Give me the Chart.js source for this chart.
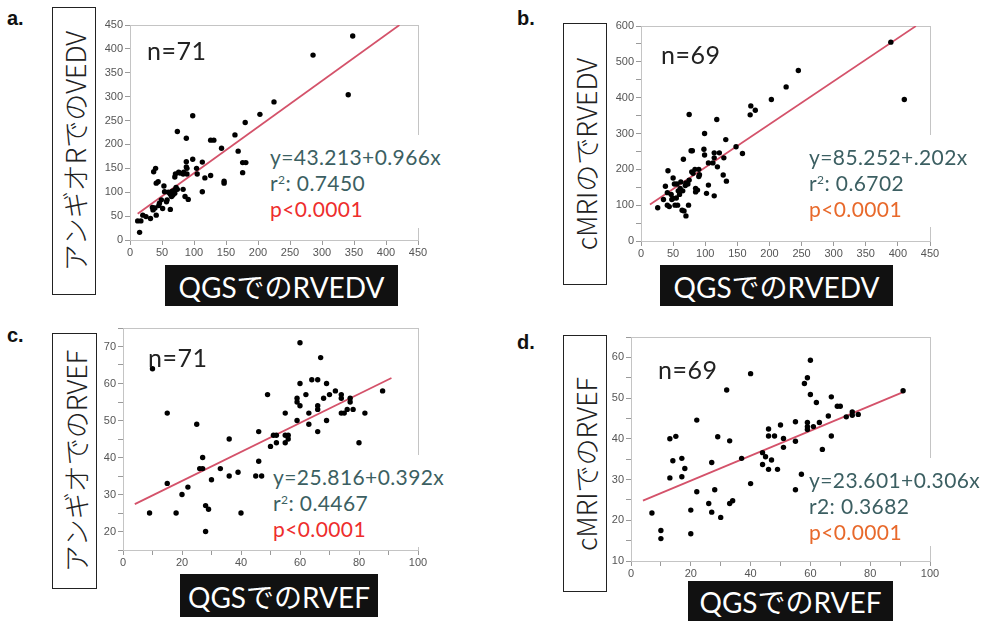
<!DOCTYPE html>
<html>
<head>
<meta charset="utf-8">
<script src="https://cdn.jsdelivr.net/npm/chart.js@4"></script>
<style>
  body { margin: 0; background: #fff; width: 992px; height: 621px; position: relative; overflow: hidden;
         font-family: Lato, "Noto Sans CJK JP", sans-serif; }
  canvas { position: absolute; }
  .tag { position: absolute; font: bold 20px/20px "Liberation Sans", Arial, sans-serif; color: #111; }
  .ylab { position: absolute; border: 1.5px solid #222; background: #fff; box-sizing: border-box; }
  .ylab span { position: absolute; left: 50%; top: 50%; transform: translate(-50%, -50%) rotate(-90deg);
               white-space: nowrap; font-family: "Noto Sans CJK JP", sans-serif; font-size: 27px;
               color: #222; font-weight: 300; }
  .xlab { position: absolute; background: #111; color: #fff; font-size: 28px;
          display: flex; align-items: center; justify-content: center; }
  .n { position: absolute; font-size: 25px; line-height: 24px; color: #222; letter-spacing: 0.5px; }
  .stats { position: absolute; background: #fff; font-size: 21px; line-height: 26px; color: #3c5f62;
           letter-spacing: 0.4px; padding: 9px 0 0 3px; box-sizing: border-box; }
  .stats sup { font-size: 12px; line-height: 0; vertical-align: 7px; }
  .red { color: #ee2d2d; }
  .orange { color: #e8692b; }
</style>
</head>
<body>
<div class="tag" style="left:7px;top:8px">a.</div>
<div class="tag" style="left:517px;top:8px">b.</div>
<div class="tag" style="left:7px;top:325px">c.</div>
<div class="tag" style="left:517px;top:332px">d.</div>

<div class="ylab" style="left:52px;top:7px;width:44px;height:288px"><span>アンギオRでのVEDV</span></div>
<div class="ylab" style="left:563px;top:23px;width:44px;height:262px"><span>cMRIのでRVEDV</span></div>
<div class="ylab" style="left:52px;top:333px;width:45px;height:256px"><span>アンギオでのRVEF</span></div>
<div class="ylab" style="left:563px;top:335px;width:44px;height:257px"><span>cMRIでのRVEF</span></div>

<canvas id="chartA"></canvas>
<canvas id="chartB"></canvas>
<canvas id="chartC"></canvas>
<canvas id="chartD"></canvas>

<div class="n" style="left:147px;top:38px">n=71</div>
<div class="n" style="left:661px;top:42px">n=69</div>
<div class="n" style="left:148px;top:345px">n=71</div>
<div class="n" style="left:658px;top:357px">n=69</div>

<div class="stats" style="left:267px;top:135px;width:182px;height:93px">
  y=43.213+0.966x<br>r<sup>2</sup>: 0.7450<br><span class="red">p&lt;0.0001</span></div>
<div class="stats" style="left:806px;top:135px;width:150px;height:92px">
  y=85.252+.202x<br>r<sup>2</sup>: 0.6702<br><span class="orange">p&lt;0.0001</span></div>
<div class="stats" style="left:270px;top:455px;width:180px;height:92px">
  y=25.816+0.392x<br>r<sup>2</sup>: 0.4467<br><span class="red">p&lt;0.0001</span></div>
<div class="stats" style="left:806px;top:458px;width:150px;height:88px">
  y=23.601+0.306x<br>r2: 0.3682<br><span class="orange">p&lt;0.0001</span></div>

<div class="xlab" style="left:165px;top:265px;width:233px;height:41px">QGSでのRVEDV</div>
<div class="xlab" style="left:660px;top:265px;width:233px;height:41px">QGSでのRVEDV</div>
<div class="xlab" style="left:180px;top:574px;width:198px;height:43px">QGSでのRVEF</div>
<div class="xlab" style="left:688px;top:581px;width:205px;height:40px">QGSでのRVEF</div>

<script>
// --- Data ---
// a. angio RVEDV vs QGS RVEDV
const aX = [12, 17, 15, 20, 25, 32, 36, 39, 41, 37, 40, 41, 44, 46, 49, 51, 53, 54, 58, 63,
  63, 65, 67, 70, 70, 70, 71, 74, 74, 76, 78, 83, 83, 86, 91, 88, 88, 88, 89, 98,
  98, 104, 105, 113, 113, 117, 126, 126, 131, 143, 147, 147, 164, 169, 176, 176, 181, 180, 203, 225,
  286, 341, 348, 57, 60, 72, 84, 89, 45, 35, 66];
const aY = [40, 40, 16, 52, 49, 45, 63, 67, 52, 143, 150, 119, 122, 77, 84, 66, 113, 101, 84, 64,
  96, 91, 94, 98, 105, 132, 138, 106, 227, 142, 140, 138, 106, 91, 85, 164, 153, 213, 138, 169,
  260, 150, 138, 163, 101, 130, 135, 209, 209, 192, 123, 119, 220, 186, 141, 162, 162, 246, 263, 289,
  387, 304, 427, 80, 100, 110, 142, 150, 72, 68, 102];
const aFit = [43.213, 0.966];
const aLineX = [12, 421];

// b. cMRI RVEDV vs QGS RVEDV
const bX = [26, 35, 38, 42, 41, 41, 44, 48, 50, 50, 52, 56, 53, 57, 58, 61, 62, 64, 67, 70,
  74, 75, 66, 73, 75, 78, 80, 81, 84, 85, 88, 90, 90, 99, 98, 99, 102, 105, 105, 114,
  122, 114, 114, 118, 119, 128, 129, 132, 133, 148, 158, 170, 171, 178, 203, 226, 245, 389, 410,
  65, 69, 55, 85, 79, 47, 91, 112, 60, 70];
const bY = [93, 116, 153, 196, 135, 100, 96, 116, 119, 176, 159, 159, 100, 100, 140, 147, 165, 86, 84, 70,
  100, 353, 228, 159, 170, 252, 252, 189, 200, 147, 142, 200, 180, 300, 256, 240, 133, 156, 218, 246,
  246, 232, 126, 339, 207, 184, 232, 283, 167, 263, 244, 352, 377, 365, 395, 430, 476, 555, 395,
  140, 155, 120, 137, 193, 130, 185, 218, 130, 162];
const bFit = [85.252, 1.202];
const bLineX = [14, 428];

// c. angio RVEF vs QGS RVEF
const cX = [9, 10, 15, 15, 18, 20, 22, 25, 26, 27, 27, 28, 29, 28, 30, 33, 36, 36, 39, 40,
  45, 46, 46, 47, 49, 50, 51, 52, 52, 55, 55, 56, 55, 56, 59, 59, 59, 60, 60, 60,
  62, 63, 63, 64, 66, 66, 66, 66, 67, 68, 69, 69, 70, 72, 74, 74, 74, 75, 76, 77,
  77, 78, 80, 82, 88];
const cY = [25, 64, 52, 33, 25, 30, 32, 49, 37, 37, 40, 27, 26, 20, 34, 37, 45, 35, 36, 25,
  35, 47, 39, 35, 57, 43, 46, 46, 44, 52, 46, 46, 44, 45, 56, 55, 50, 71, 60, 54,
  57, 52, 49, 61, 61, 54, 53, 47, 67, 56, 60, 50, 57, 58, 57, 56, 52, 52, 53, 56,
  55, 53, 44, 52, 58];
const cFit = [25.816, 0.392];
const cLineX = [4, 91];

// d. cMRI RVEF vs QGS RVEF
const dX = [7, 10, 10, 13, 13, 14, 15, 17, 17, 18, 20, 20, 22, 22, 26, 27, 27, 28, 29, 30,
  32, 33, 33, 34, 37, 40, 40, 44, 45, 44, 46, 46, 46, 47, 48, 49, 50, 51, 51, 55,
  55, 55, 57, 58, 59, 59, 59, 59, 60, 60, 61, 62, 63, 64, 66, 67, 67, 69, 70, 72,
  74, 74, 76, 91];
const dY = [21.8, 17.5, 15.5, 40, 30.4, 34.6, 40.6, 35.2, 30.7, 32.7, 22.5, 16.7, 44.6, 27, 24.1, 34.2, 22, 27.5, 40.5, 20.7,
  52, 39.5, 24.1, 24.8, 35.2, 56, 29, 36.6, 35.6, 33.7, 42.4, 40.7, 32.5, 34.8, 40.7, 32.5, 43.4, 40.1, 37.9, 27.5,
  44.2, 39.4, 31.3, 53.6, 55, 44, 43, 42.3, 59.3, 50.9, 43, 48.9, 44, 37.4, 45.6, 50.3, 40.7, 48, 48, 45.4,
  46.6, 45.8, 46, 51.8];
const dFit = [23.601, 0.306];
const dLineX = [4, 91];

// --- Chart helpers ---
const TICK_FONT = { family: 'Liberation Sans', size: 11 };
const TICK_COLOR = '#555';

const framePlugin = {
  id: 'frame',
  beforeDatasetsDraw(chart) {
    const { ctx, chartArea: a } = chart;
    ctx.save();
    ctx.strokeStyle = '#c4c4c4';
    ctx.lineWidth = 1;
    ctx.strokeRect(Math.round(a.left) + 0.5, Math.round(a.top) + 0.5,
      Math.round(a.right - a.left), Math.round(a.bottom - a.top));
    ctx.restore();
  },
};

function axis(min, max, step, labelStep, isX) {
  return {
    type: 'linear',
    min, max,
    afterFit: (s) => {
      if (isX) { s.height = 22; s.paddingLeft = 0; s.paddingRight = 0; }
      else { s.width = 45; s.paddingTop = 0; s.paddingBottom = 0; }
    },
    ticks: {
      stepSize: step,
      autoSkip: false,
      maxRotation: 0,
      padding: isX ? 1 : 2,
      color: TICK_COLOR,
      font: TICK_FONT,
      callback: (v) => (Math.abs(v % labelStep) < 1e-6 ? v : ''),
    },
    grid: { drawOnChartArea: false, drawTicks: true, tickLength: 5, color: '#9a9a9a' },
    border: { display: true, color: '#b0b0b0' },
  };
}

function makePanel(id, box, xs, ys, fit, lineX, xAxis, yAxis) {
  const padL = 45, padT = 8, padR = 14, padB = 22;
  const cv = document.getElementById(id);
  const w = box.r - box.l + padL + padR;
  const h = box.b - box.t + padT + padB;
  cv.width = w; cv.height = h;
  cv.style.left = (box.l - padL) + 'px';
  cv.style.top = (box.t - padT) + 'px';
  cv.style.width = w + 'px';
  cv.style.height = h + 'px';

  new Chart(cv.getContext('2d'), {
    type: 'scatter',
    data: {
      datasets: [
        {
          data: xs.map((x, i) => ({ x, y: ys[i] })),
          pointRadius: 2.7,
          pointBackgroundColor: '#000',
          pointBorderWidth: 0,
        },
        {
          type: 'line',
          data: lineX.map((x) => ({ x, y: fit[0] + fit[1] * x })),
          borderColor: '#d4526a',
          borderWidth: 1.8,
          pointRadius: 0,
          fill: false,
        },
      ],
    },
    options: {
      responsive: false,
      animation: false,
      layout: { padding: { top: padT, right: padR, left: 0, bottom: 0 } },
      plugins: { legend: { display: false }, tooltip: { enabled: false } },
      scales: { x: xAxis, y: yAxis },
    },
    plugins: [framePlugin],
  });
}

makePanel('chartA', { l: 130, t: 25, r: 418, b: 240 }, aX, aY, aFit, aLineX,
  axis(0, 450, 50, 50, true), axis(0, 450, 50, 50, false));
makePanel('chartB', { l: 641, t: 26, r: 930, b: 241 }, bX, bY, bFit, bLineX,
  axis(0, 450, 50, 50, true), axis(0, 600, 50, 100, false));
makePanel('chartC', { l: 123, t: 328, r: 418, b: 550 }, cX, cY, cFit, cLineX,
  axis(0, 100, 10, 20, true), axis(15, 75, 5, 10, false));
makePanel('chartD', { l: 631, t: 337, r: 930, b: 561 }, dX, dY, dFit, dLineX,
  axis(0, 100, 10, 20, true), axis(10, 65, 5, 10, false));
</script>
</body>
</html>
